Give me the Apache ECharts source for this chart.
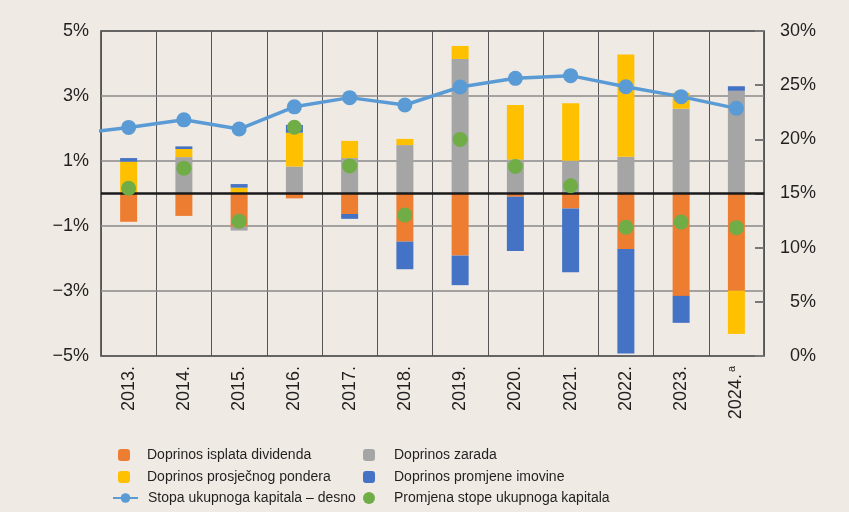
<!DOCTYPE html>
<html>
<head>
<meta charset="utf-8">
<script src="https://cdn.jsdelivr.net/npm/echarts@6/dist/echarts.min.js"></script>
<style>
html, body { margin: 0; padding: 0; background: #EFEBE4; }
#main { width: 849px; height: 512px; }
</style>
</head>
<body>
<div id="main"></div>
<script>
var years = ['2013.', '2014.', '2015.', '2016.', '2017.', '2018.', '2019.', '2020.', '2021.', '2022.', '2023.', '2024.'];
var yearNotes = ['', '', '', '', '', '', '', '', '', '', '', 'a'];

// doprinosi, postotni bodovi (lijeva os)
var dividende = [-0.87, -0.69, -1.02, -0.15, -0.63, -1.48, -1.91, -0.10, -0.46, -1.71, -3.15, -2.99];
var zarada    = [0, 1.12, -0.12, 0.83, 1.09, 1.49, 4.14, 1.05, 1.01, 1.13, 2.61, 3.16];
var ponder    = [0.98, 0.25, 0.18, 1.04, 0.53, 0.19, 0.40, 1.67, 1.77, 3.15, 0.49, -1.33];
var imovina   = [0.11, 0.08, 0.11, 0.24, -0.15, -0.85, -0.91, -1.67, -1.96, -3.21, -0.83, 0.14];
var promjena  = [0.16, 0.78, -0.85, 2.04, 0.85, -0.66, 1.66, 0.83, 0.24, -1.04, -0.88, -1.05];

// stopa ukupnoga kapitala, % (desna os); prva tocka je 2012., odrezana rubom
var stopaPrev = 20.5;
var stopa = [21.1, 21.8, 20.95, 23.0, 23.85, 23.17, 24.83, 25.63, 25.88, 24.86, 23.94, 22.86];

var leftTicks = [-5, -3, -1, 1, 3, 5];

// original je Helvetica Condensed; najblizi dostupni regular
var font = "'Liberation Sans', Arial, sans-serif";
var legSize = 14;
var axSize = 18;
var txt = '#231F20';

var names = {
    div: 'Doprinos isplata dividenda',
    zar: 'Doprinos zarada',
    pon: 'Doprinos prosječnog pondera',
    imo: 'Doprinos promjene imovine',
    sto: 'Stopa ukupnoga kapitala – desno',
    pro: 'Promjena stope ukupnoga kapitala'
};

function pct(v) {
    return (v < 0 ? '\u2212' : '') + Math.abs(v) + '%';
}

var lineData = [{ value: [-1, stopaPrev], symbol: 'none' }];
stopa.forEach(function (v, i) { lineData.push([i, v]); });

function legendItem(name, left, top, w, h, pad) {
    return {
        data: [name],
        left: left,
        top: top,
        itemWidth: w,
        itemHeight: h,
        selectedMode: false,
        textStyle: { fontFamily: font, fontSize: legSize, color: txt, padding: [0, 0, 0, pad] }
    };
}

var myChart = echarts.init(document.getElementById('main'));

myChart.setOption({
    backgroundColor: '#EFEBE4',
    animation: false,
    grid: {
        left: 101, right: 85, top: 31, bottom: 156,
        show: true, borderColor: '#3a3a3a', borderWidth: 1.5
    },
    legend: [
        legendItem(names.div, 113, 443, 12, 12, 12),
        legendItem(names.pon, 113, 465, 12, 12, 12),
        legendItem(names.sto, 107, 486, 25, 12, 5),
        legendItem(names.zar, 358, 443, 12, 12, 14),
        legendItem(names.imo, 358, 465, 12, 12, 14),
        legendItem(names.pro, 358, 486, 12, 12, 14)
    ],
    xAxis: [{
        type: 'category',
        data: years,
        axisLine: { show: false },
        axisTick: { show: false },
        splitLine: { show: true, lineStyle: { color: '#555', width: 1 } },
        axisLabel: {
            rotate: 90,
            margin: 10,
            fontFamily: font,
            fontSize: axSize,
            color: txt,
            formatter: function (v, i) {
                return '{y|' + v + '}' + (yearNotes[i] ? '{s|' + yearNotes[i] + '}' : '');
            },
            rich: {
                y: { fontFamily: font, fontSize: axSize, color: txt },
                s: { fontFamily: font, fontSize: 11, color: txt, verticalAlign: 'top', padding: [0, 0, 8, 2] }
            }
        }
    }, {
        type: 'value',
        min: -0.5,
        max: 11.5,
        show: false
    }],
    yAxis: [{
        type: 'value',
        min: -5,
        max: 5,
        interval: 2,
        axisLine: { show: false },
        axisTick: { show: false },
        splitLine: { show: false },
        axisLabel: { margin: 12, fontFamily: font, fontSize: axSize, color: txt, formatter: pct }
    }, {
        type: 'value',
        min: 0,
        max: 30,
        interval: 5,
        position: 'right',
        axisLine: { show: false },
        axisTick: { show: true, inside: true, length: 9, lineStyle: { color: '#777', width: 2 } },
        splitLine: { show: false },
        axisLabel: { margin: 52, align: 'right', fontFamily: font, fontSize: axSize, color: txt, formatter: '{value}%' }
    }],
    series: [{
        name: names.div,
        type: 'bar',
        stack: 'd',
        barWidth: 17,
        itemStyle: { color: '#ED7D31' },
        data: dividende,
        markLine: {
            silent: true,
            z: 1,
            symbol: 'none',
            label: { show: false },
            lineStyle: { color: '#8a8a8a', width: 1.5, type: 'solid' },
            data: leftTicks.slice(1, -1).map(function (v) { return { yAxis: v }; })
        }
    }, {
        name: names.zar,
        type: 'bar',
        stack: 'd',
        barWidth: 17,
        itemStyle: { color: '#A5A5A5' },
        data: zarada
    }, {
        name: names.pon,
        type: 'bar',
        stack: 'd',
        barWidth: 17,
        itemStyle: { color: '#FFC000' },
        data: ponder
    }, {
        name: names.imo,
        type: 'bar',
        stack: 'd',
        barWidth: 17,
        itemStyle: { color: '#4472C4' },
        data: imovina
    }, {
        name: names.pro,
        type: 'scatter',
        symbol: 'circle',
        symbolSize: 15,
        z: 4,
        itemStyle: { color: '#70AD47', opacity: 1 },
        data: promjena,
        markLine: {
            silent: true,
            z: 3,
            symbol: 'none',
            label: { show: false },
            lineStyle: { color: '#1a1a1a', width: 2.5, type: 'solid' },
            data: [{ yAxis: 0 }]
        }
    }, {
        name: names.sto,
        type: 'line',
        xAxisIndex: 1,
        yAxisIndex: 1,
        z: 5,
        symbol: 'circle',
        symbolSize: 15,
        clip: true,
        lineStyle: { color: '#5B9BD5', width: 3.5 },
        itemStyle: { color: '#5B9BD5' },
        data: lineData
    }]
});
</script>
</body>
</html>
